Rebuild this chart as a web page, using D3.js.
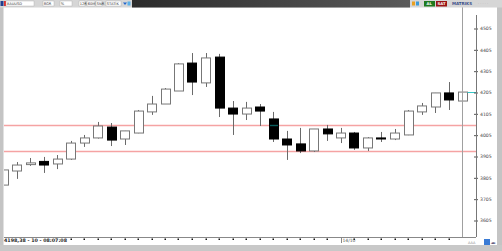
<!DOCTYPE html>
<html><head><meta charset="utf-8">
<script src="https://cdn.jsdelivr.net/npm/d3@7"></script>
<style>html,body{margin:0;padding:0;background:#fff;overflow:hidden}</style>
</head><body><svg id="c" width="502" height="251"></svg>
<script>
// ---- data ----
const opens  = [3771,3837,3867,3882,3870,3893,3968,3992,4043,3987,4015,4114,4151,4212,4343,4250,4371,4132,4104,4137,4081,3987,3964,3931,4034,3992,4015,3945,3992,3987,4006,4114,4137,4203,4165];
const highs  = [3851,3879,3898,3903,3912,3978,4006,4067,4062,4025,4123,4189,4226,4343,4390,4390,4386,4165,4161,4151,4114,4025,4039,4034,4053,4039,4020,3996,4020,4034,4123,4156,4203,4254,4210];
const lows   = [3748,3800,3861,3828,3846,3889,3950,3989,3954,3959,4014,4100,4151,4212,4193,4231,4090,4006,4076,4048,3973,3889,3921,3926,3978,3968,3936,3931,3973,3982,4005,4100,4109,4123,4165];
const closes = [3842,3865,3875,3865,3893,3968,3992,4048,3982,4025,4118,4151,4221,4339,4254,4367,4132,4104,4132,4118,3987,3959,3931,4034,4011,4015,3945,3992,3987,4015,4118,4142,4203,4170,4207];
const yTicks = [3605,3705,3805,3905,4005,4105,4205,4305,4405,4505];
const levels = [4055,3930];
const dateLabels = [{i:25, t:"14/10"}];
const cursorLabel = "4198,38 - 10 - 08:07:08";
const toolbarItems = ["XAUUSD","8GR","%","12R","60M","SNR","STATİK"];

const svg = d3.select("#c");
const W = 502, H = 251;
const plot = {l:4, r:476, t:8, b:237};

const x = d3.scaleLinear().domain([0, opens.length-1]).range([3, 462]);
const y = d3.scaleLinear().domain([3605, 4505]).range([220.5, 28.5]);
const bw = 9;

// background frames
svg.append("rect").attr("width",W).attr("height",H).attr("fill","#fff");

// clip
svg.append("clipPath").attr("id","pc").append("rect")
  .attr("x",plot.l).attr("y",plot.t).attr("width",plot.r-plot.l).attr("height",plot.b-plot.t);
const g = svg.append("g").attr("clip-path","url(#pc)");

// support/resistance lines
g.selectAll("line.lvl").data(levels).join("line")
  .attr("x1",plot.l).attr("x2",plot.r)
  .attr("y1",d=>Math.round(y(d))+0.5).attr("y2",d=>Math.round(y(d))+0.5)
  .attr("stroke","#f5a3a3").attr("stroke-width",1.4);

// candles
const idx = d3.range(opens.length);
g.selectAll("line.wick").data(idx).join("line")
  .attr("x1",i=>Math.round(x(i))+0.5).attr("x2",i=>Math.round(x(i))+0.5)
  .attr("y1",i=>y(highs[i])).attr("y2",i=>y(lows[i]))
  .attr("stroke","#6a6a6a").attr("stroke-width",1);
g.selectAll("rect.body").data(idx).join("rect")
  .attr("x",i=>Math.round(x(i)-bw/2)+0.5)
  .attr("y",i=>y(Math.max(opens[i],closes[i])))
  .attr("width",bw)
  .attr("height",i=>Math.max(1,Math.abs(y(opens[i])-y(closes[i]))))
  .attr("fill",i=>closes[i]>=opens[i]?"#fff":"#000")
  .attr("stroke",i=>closes[i]>=opens[i]?"#777":"#000")
  .attr("stroke-width",1);

// level line seen through black bodies (inverted colour)
const cross = [];
idx.forEach(i=>{ if(closes[i]<opens[i]) levels.forEach(l=>{ if(l<opens[i]&&l>closes[i]) cross.push({i,l}); }); });
g.selectAll("line.cr").data(cross).join("line")
  .attr("x1",d=>Math.round(x(d.i)-bw/2)+1).attr("x2",d=>Math.round(x(d.i)+bw/2))
  .attr("y1",d=>Math.round(y(d.l))+0.5).attr("y2",d=>Math.round(y(d.l))+0.5)
  .attr("stroke","#0a5c5c").attr("stroke-width",1.4);

// current price line
const last = opens.length-1;
svg.append("line").attr("x1",x(last)+bw/2+1).attr("x2",plot.r)
  .attr("y1",Math.round(y(closes[last]))+0.5).attr("y2",Math.round(y(closes[last]))+0.5)
  .attr("stroke","#33c7c7").attr("stroke-width",1);

// shift vertical line
svg.append("line").attr("x1",462.5).attr("x2",462.5).attr("y1",7).attr("y2",plot.b)
  .attr("stroke","#a0a0a0").attr("stroke-width",1);

// y axis
const ya = d3.axisRight(y).tickValues(yTicks).tickSize(4).tickPadding(2).tickFormat(d=>String(d));
const yg = svg.append("g").attr("transform",`translate(${plot.r-2},0)`).call(ya);
yg.select(".domain").remove();
yg.selectAll("line").attr("stroke","#555");
yg.selectAll("text").attr("font-family","DejaVu Sans").attr("font-size","4.6px").attr("fill","#444");
svg.append("line").attr("x1",plot.r+0.5).attr("x2",plot.r+0.5).attr("y1",15).attr("y2",plot.b)
  .attr("stroke","#777").attr("stroke-width",1);

// bottom axis line & tick dots
svg.append("line").attr("x1",plot.l).attr("x2",plot.r).attr("y1",plot.b+0.5).attr("y2",plot.b+0.5)
  .attr("stroke","#888");
const dotIdx = idx.filter(i=> x(i) > 62 && i < last && !dateLabels.some(d=>d.i===i));
svg.selectAll("rect.dot").data(dotIdx).join("rect")
  .attr("x",i=>Math.round(x(i))-0.5).attr("y",238.5).attr("width",1.5).attr("height",1.5).attr("fill","#111");
dateLabels.forEach(d=>{
  svg.append("line").attr("x1",Math.round(x(d.i))+0.5).attr("x2",Math.round(x(d.i))+0.5)
    .attr("y1",plot.b).attr("y2",243).attr("stroke","#888");
  svg.append("text").attr("x",x(d.i)+2).attr("y",242).text(d.t)
    .attr("font-family","DejaVu Sans").attr("font-size","4.5px").attr("fill","#555");
});
svg.append("text").attr("x",4).attr("y",242).text(cursorLabel)
  .attr("font-family","DejaVu Sans").attr("font-size","4.8px").attr("font-weight","bold").attr("fill","#222");

// frame: left border, right border, bottom band
svg.append("rect").attr("x",0).attr("y",7).attr("width",3.5).attr("height",240).attr("fill","#c4c4c4");
svg.append("rect").attr("x",497).attr("y",7).attr("width",5).attr("height",240).attr("fill","#c4c4c4");
svg.append("rect").attr("x",0).attr("y",245).attr("width",W).attr("height",6).attr("fill","#c8c8c8");
svg.append("text").attr("x",468).attr("y",244).text("AAA")
  .attr("font-family","DejaVu Sans").attr("font-size","3.5px").attr("fill","#888");
svg.append("rect").attr("x",484).attr("y",239).attr("width",6).attr("height",6).attr("fill","#3a7bd5");
svg.append("text").attr("x",490.5).attr("y",244).text("◄►")
  .attr("font-family","DejaVu Sans").attr("font-size","3.5px").attr("fill","#225");

// toolbar
svg.append("rect").attr("x",0).attr("y",0).attr("width",W).attr("height",7.5).attr("fill","#d6d6d6");
const grad = svg.append("defs").append("linearGradient").attr("id","tb");
grad.append("stop").attr("offset","0").attr("stop-color","#2b2b2b");
grad.append("stop").attr("offset","1").attr("stop-color","#5a5a5a");
svg.append("rect").attr("x",132).attr("y",0).attr("width",278).attr("height",7.5).attr("fill","url(#tb)");
svg.append("rect").attr("x",0.5).attr("y",1).attr("width",3).attr("height",5).attr("fill","#1f3f8f");
svg.append("rect").attr("x",4).attr("y",1).attr("width",2).attr("height",5).attr("fill","#d33");
const tbX = [6,43,60,79,87,96,106];
const tbW = [28,11,12,6,8,6,15];
toolbarItems.forEach((t,k)=>{
  svg.append("rect").attr("x",tbX[k]).attr("y",1).attr("width",tbW[k]).attr("height",5)
    .attr("fill","#fff").attr("stroke","#aaa").attr("stroke-width",0.4);
  svg.append("text").attr("x",tbX[k]+0.8).attr("y",5.2).text(t)
    .attr("font-family","DejaVu Sans").attr("font-size","3.6px").attr("fill","#333");
});
svg.append("path").attr("d","M123,2.5 L127,2.5 L125,5 Z").attr("fill","#2266cc");
svg.append("rect").attr("x",127.5).attr("y",1.5).attr("width",3).attr("height",4).attr("fill","#5ab0e8");
svg.append("rect").attr("x",412).attr("y",1.5).attr("width",3).attr("height",4).attr("fill","#e8a020");
svg.append("rect").attr("x",416).attr("y",1.5).attr("width",3).attr("height",4).attr("fill","#3a9ad9");
svg.append("rect").attr("x",424).attr("y",1).attr("width",11).attr("height",5.5).attr("fill","#1f7a1f");
svg.append("text").attr("x",426.5).attr("y",5.3).text("AL").attr("font-family","DejaVu Sans")
  .attr("font-size","3.8px").attr("font-weight","bold").attr("fill","#fff");
svg.append("rect").attr("x",436).attr("y",1).attr("width",11).attr("height",5.5).attr("fill","#9a1414");
svg.append("text").attr("x",437.5).attr("y",5.3).text("SAT").attr("font-family","DejaVu Sans")
  .attr("font-size","3.8px").attr("font-weight","bold").attr("fill","#fff");
svg.append("text").attr("x",452).attr("y",5.3).text("MATRIKS").attr("font-family","DejaVu Sans")
  .attr("font-size","4px").attr("font-weight","bold").attr("fill","#3a4f8a");
svg.append("text").attr("x",478).attr("y",5.3).text("· · · · ·").attr("font-family","DejaVu Sans")
  .attr("font-size","3.5px").attr("fill","#aaa");
</script></body></html>
